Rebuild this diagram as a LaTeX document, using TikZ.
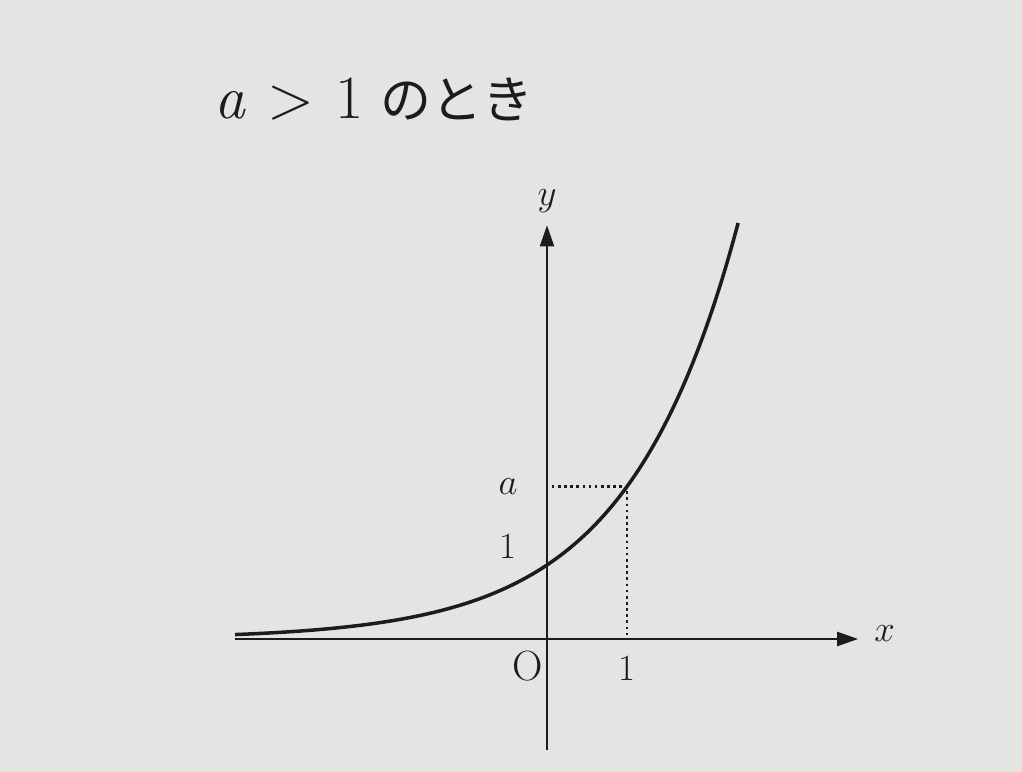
\RequirePackage{fix-cm}
\documentclass[tikz,border=0pt]{standalone}
\usepackage{fontspec}
\newfontfamily\jpfont{Noto Sans CJK JP}
\usepackage{tikz}
\usetikzlibrary{arrows.meta,positioning}

\definecolor{paper}{RGB}{227,229,227}
\definecolor{ink}{RGB}{28,28,28}

\begin{document}
\begin{tikzpicture}[x=1.6cm, y=1.48cm, color=ink,
    axis/.style={line width=1.2pt, -{Triangle[length=0.42cm, width=0.28cm]}},
    guide/.style={line width=1.5pt, dotted},
    curve/.style={line width=2pt},
    lbl/.style={font=\fontsize{21}{25}\selectfont, inner sep=1pt}]

  % page
  \fill[paper] (-6.8375,-1.797) rectangle (5.9375,8.635);
  \useasboundingbox (-6.8375,-1.797) rectangle (5.9375,8.635);

  % Define nodes
  \coordinate (O) at (0,0);
  \coordinate (xl) at (-3.9,0);
  \coordinate (xt) at (3.89,0);
  \coordinate (yb) at (0,-1.5);
  \coordinate (yt) at (0,5.59);
  \coordinate (pa) at (1,2.06);
  \coordinate (p1) at (1,0);
  \coordinate (a0) at (0.06,2.06);

  \node[anchor=base west, inner sep=0pt, font=\fontsize{29}{34}\selectfont] (title) at (-4.16,7.04)
    {{\fontsize{35}{40}\selectfont\textit{a}\hspace{12pt}>\hspace{12pt}1}\hspace{10pt}{\jpfont のとき}};

  \node[lbl, right=0.28cm of xt, yshift=0.1cm] (xlab) {$x$};
  \node[lbl, above=0.22cm of yt] (ylab) {$y$};
  \node[lbl, font=\fontsize{24}{28}\selectfont, below left=0.2cm and 0.05cm of O] (olab) {O};
  \node[lbl, below=0.3cm of p1] (x1) {1};
  \node[lbl, left=0.64cm of a0] (alab) {$a$};
  \node[lbl, below=0.7cm of alab] (y1) {1};

  % axes
  \draw[axis] (xl) -- (xt);
  \draw[axis] (yb) -- (yt);

  % guide lines
  \draw[guide] (a0) -- (pa) -- (p1);

  % y = a^x
  \draw[curve] plot[domain=-3.9:2.39, samples=90, smooth] (\x,{exp(0.7227*\x)});

\end{tikzpicture}
\end{document}
